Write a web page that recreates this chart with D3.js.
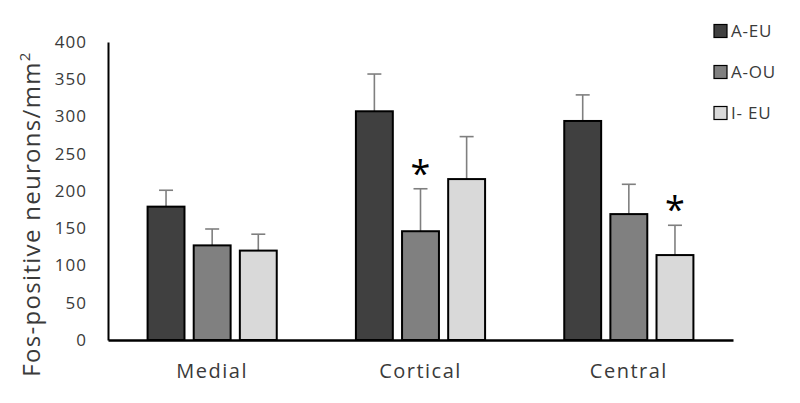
<!DOCTYPE html>
<html><head><meta charset="utf-8">
<script src="https://cdn.jsdelivr.net/npm/d3@7"></script>
<style>body{margin:0;background:#fff}svg{display:block}</style>
</head><body>
<svg id="c" width="800" height="403"></svg>
<script>
const categories = ["Medial", "Cortical", "Central"];
const seriesNames = ["A-EU", "A-OU", "I- EU"];
const seriesColors = ["#404040", "#808080", "#d9d9d9"];
const aeuValues = [179, 307, 294];
const aouValues = [127, 146, 169];
const ieuValues = [120, 216, 114];
const aeuErrors = [22, 50, 35];
const aouErrors = [22, 57, 40];
const ieuErrors = [22, 57, 40];
const yTicks = [0, 50, 100, 150, 200, 250, 300, 350, 400];
const significance = [[1, 1], [2, 2]]; // [categoryIndex, seriesIndex]

const values = [aeuValues, aouValues, ieuValues];
const errors = [aeuErrors, aouErrors, ieuErrors];

const svg = d3.select("#c");
const font = "'Open Sans', sans-serif";
const textColor = "#3a3a3a";
const x0 = d3.scaleBand().domain(categories).range([108, 733]).paddingInner(0.38).paddingOuter(0.19);
const x1 = d3.scaleBand().domain(d3.range(3)).range([0, x0.bandwidth()]).paddingInner(0.2);
const y = d3.scaleLinear().domain([0, 400]).range([340, 42]);

// y axis
const ya = svg.append("g").attr("transform", "translate(108,0)")
  .call(d3.axisLeft(y).tickValues(yTicks).tickSize(0).tickPadding(21));
ya.select(".domain").attr("stroke", "#000").attr("stroke-width", 2);
ya.selectAll("text").attr("font-family", font).attr("font-size", 17)
  .attr("letter-spacing", 1).attr("fill", textColor);

// bars
categories.forEach((c, ci) => {
  const g = svg.append("g").attr("transform", `translate(${x0(c)},0)`);
  d3.range(3).forEach(si => {
    const v = values[si][ci], e = errors[si][ci];
    const cx = x1(si) + x1.bandwidth() / 2;
    g.append("line").attr("x1", cx).attr("x2", cx).attr("y1", y(v)).attr("y2", y(v + e))
      .attr("stroke", "#7f7f7f").attr("stroke-width", 1.6);
    g.append("line").attr("x1", cx - 7).attr("x2", cx + 7).attr("y1", y(v + e)).attr("y2", y(v + e))
      .attr("stroke", "#7f7f7f").attr("stroke-width", 1.6);
    g.append("rect").attr("x", x1(si)).attr("y", y(v)).attr("width", x1.bandwidth())
      .attr("height", y(0) - y(v)).attr("fill", seriesColors[si]).attr("stroke", "#000").attr("stroke-width", 2);
  });
});

// significance asterisks
significance.forEach(([ci, si]) => {
  const cx = x0(categories[ci]) + x1(si) + x1.bandwidth() / 2;
  const top = values[si][ci] + errors[si][ci];
  svg.append("text").attr("x", cx).attr("y", y(top) - 3).attr("text-anchor", "middle")
    .attr("font-family", font).attr("font-size", 36).attr("fill", "#000").text("*");
});

// x axis
const xa = svg.append("g").attr("transform", "translate(0,340)")
  .call(d3.axisBottom(x0).tickSize(0).tickPadding(24));
xa.select(".domain").attr("stroke", "#000").attr("stroke-width", 2.5);
xa.selectAll("text").attr("font-family", font).attr("font-size", 20)
  .attr("letter-spacing", 1.5).attr("fill", textColor);

// y title
svg.append("text").attr("transform", "translate(40,214) rotate(-90)").attr("text-anchor", "middle")
  .attr("font-family", font).attr("font-size", 24).attr("letter-spacing", 1.3).attr("fill", textColor)
  .html('Fos-positive neurons/mm<tspan dy="-10" font-size="15">2</tspan>');

// legend
const lg = svg.append("g");
seriesNames.forEach((n, i) => {
  const yy = 31 + i * 41;
  lg.append("rect").attr("x", 714).attr("y", yy - 6.5).attr("width", 13).attr("height", 13)
    .attr("fill", seriesColors[i]).attr("stroke", "#000").attr("stroke-width", 1.2);
  lg.append("text").attr("x", 731).attr("y", yy).attr("dy", "0.36em")
    .attr("font-family", font).attr("font-size", 17).attr("letter-spacing", 0.8).attr("fill", textColor).text(n);
});
</script>
</body></html>
